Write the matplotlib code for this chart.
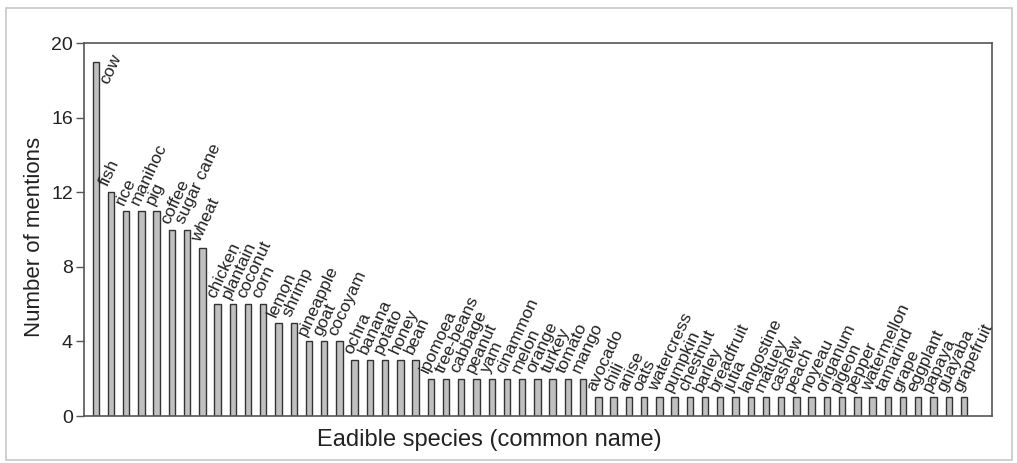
import matplotlib
matplotlib.use("Agg")
import matplotlib.pyplot as plt
from matplotlib.patches import Rectangle

plt.rcParams['font.family'] = ['Liberation Sans', 'DejaVu Sans']

# species and number of mentions
species = ['cow', 'fish', 'rice', 'manihoc', 'pig', 'coffee', 'sugar cane', 'wheat',
           'chicken', 'plantain', 'coconut', 'corn', 'lemon', 'shrimp', 'pineapple',
           'goat', 'cocoyam', 'ochra', 'banana', 'potato', 'honey', 'bean', 'ipomoea',
           'tree-beans', 'cabbage', 'peanut', 'yam', 'cinammon', 'melon', 'orange',
           'turkey', 'tomato', 'mango', 'avocado', 'chili', 'anise', 'oats',
           'watercress', 'pumpkin', 'chestnut', 'barley', 'breadfruit', 'jutia',
           'langostine', 'matuey', 'cashew', 'peach', 'noyeau', 'origanum', 'pigeon',
           'pepper', 'watermellon', 'tamarind', 'grape', 'eggplant', 'papaya',
           'guayaba', 'grapefruit']
mentions = [19, 12, 11, 11, 11, 10, 10, 9,
            6, 6, 6, 6, 5, 5, 4,
            4, 4, 3, 3, 3, 3, 3, 2,
            2, 2, 2, 2, 2, 2, 2,
            2, 2, 2, 1, 1, 1, 1,
            1, 1, 1, 1, 1, 1,
            1, 1, 1, 1, 1, 1, 1,
            1, 1, 1, 1, 1, 1,
            1, 1]
yticks = [0, 4, 8, 12, 16, 20]

fig = plt.figure(figsize=(10.17, 4.63), dpi=100)
ax = fig.add_axes([0.0826, 0.1015, 0.8928, 0.8056])

# grey frame round the whole figure
fig.patches.append(Rectangle((0.006, 0.006), 0.989, 0.977, transform=fig.transFigure,
                             fill=False, edgecolor='#c8c8c8', lw=1.2))

x = list(range(len(species)))
ax.bar(x, mentions, width=0.42, color='#c0c0c0', edgecolor='#333333', lw=1.0)

for i, (name, v) in enumerate(zip(species, mentions)):
    if v >= 19:
        # no room above the tallest bar, put it beside
        ax.annotate(name, (i, v), xytext=(9, -17), textcoords='offset points',
                    rotation=65, rotation_mode='anchor', ha='left', va='baseline',
                    fontsize=12.5, color='#222222')
    else:
        ax.annotate(name, (i, v), xytext=(-2, 3.5), textcoords='offset points',
                    rotation=65, rotation_mode='anchor', ha='left', va='baseline',
                    fontsize=12.5, color='#222222')

ax.set_xlim(-0.77, len(species) - 1 + 1.84)
ax.set_ylim(0, 20)
ax.set_yticks(yticks)
ax.set_xticks([])
ax.tick_params(axis='y', direction='out', length=6, width=1, color='#555555',
               labelsize=14, labelcolor='#222222', pad=2)
for s in ax.spines.values():
    s.set_color('#555555')
    s.set_linewidth(1.2)

ax.set_ylabel('Number of mentions', fontsize=16, color='#222222')
ax.yaxis.set_label_coords(-0.043, 0.48)
ax.set_xlabel('Eadible species (common name)', fontsize=17, color='#222222')
ax.xaxis.set_label_coords(0.446, -0.035, transform=ax.transAxes)
ax.xaxis.label.set_va('top')

fig.savefig('out.png', dpi=100)
